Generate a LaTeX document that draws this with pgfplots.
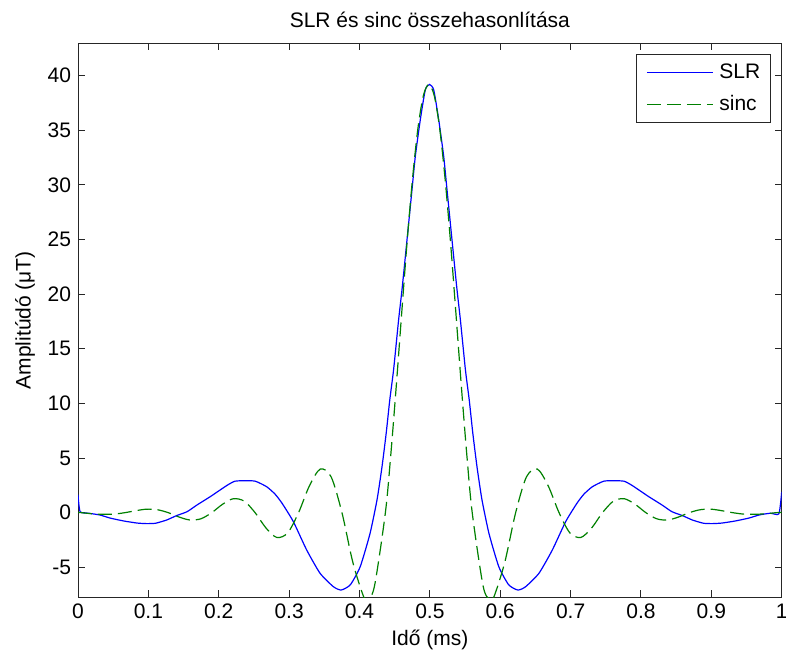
\documentclass[border=0pt]{standalone}
\usepackage{fontspec}
\setmainfont{Liberation Sans}
\usepackage{pgfplots}
\pgfplotsset{compat=1.18}
\definecolor{mgreen}{RGB}{0,128,0}
\definecolor{mblue}{RGB}{0,0,255}
\begin{document}
\begin{tikzpicture}[font=\fontsize{10.5}{12}\selectfont]
\useasboundingbox (0,0) rectangle (393pt,330.5pt);
\begin{axis}[
  at={(39pt,32pt)}, anchor=south west,
  scale only axis, width=351.85pt, height=276.75pt,
  xmin=0, xmax=1, ymin=-7.72, ymax=42.95,
  xtick={0,0.1,0.2,0.3,0.4,0.5,0.6,0.7,0.8,0.9,1},
  xticklabels={0,0.1,0.2,0.3,0.4,0.5,0.6,0.7,0.8,0.9,1},
  ytick={-5,0,5,10,15,20,25,30,35,40},
  yticklabels={-5,0,5,10,15,20,25,30,35,40},
  tick align=inside, xtick pos=both, ytick pos=both,
  major tick length=3.5pt,
  axis line style={line width=0.5pt, black!85},
  every tick/.style={line width=0.5pt, black!85},
  /pgf/number format/assume math mode=true,
  every axis title shift=0pt,
  title={SLR és sinc összehasonlítása},
  title style={at={(axis description cs:0.5,1.0425)}, anchor=center, inner sep=0pt},
  xlabel={Idő (ms)},
  xlabel style={at={(axis description cs:0.5,-0.0777)}, anchor=center, inner sep=0pt},
  ylabel={Amplitúdó (μT)},
  ylabel style={at={(axis description cs:-0.0753,0.5)}, anchor=center, inner sep=0pt},
  legend cell align=left,
  legend image code/.code={\draw[#1] (0pt,0pt) -- (33pt,0pt);},
  legend style={at={(axis description cs:0.9844,0.9805)}, anchor=north east,
    draw=black!85, line width=0.5pt, inner xsep=5pt, inner ysep=1pt,
    column sep=3pt,
    nodes={inner sep=0pt, minimum height=16pt, anchor=west}},
]
\addplot[mblue, line width=0.6pt, smooth, tension=0.35] coordinates {
(0,1.65) (0.003,0.1) (0.015,-0.05) (0.031,-0.21) (0.046,-0.5) (0.065,-0.76)
(0.084,-0.95) (0.097,-1.0) (0.11,-0.97) (0.126,-0.67) (0.140,-0.27) (0.155,0.09)
(0.169,0.7) (0.188,1.47) (0.202,2.08) (0.213,2.55) (0.223,2.88) (0.237,2.93)
(0.252,2.88) (0.268,2.38) (0.280,1.7) (0.290,0.86) (0.306,-0.82) (0.325,-3.42)
(0.344,-5.55) (0.363,-6.78) (0.374,-7.08) (0.387,-6.6) (0.401,-4.95) (0.415,-1.9)
(0.425,1.2) (0.432,4.2) (0.438,7.3) (0.443,10.3) (0.4485,13.1) (0.4556,17.65)
(0.4604,20.4) (0.4651,23.4) (0.4746,29.55) (0.4793,32.6) (0.4864,35.96) (0.4935,38.7)
(0.4995,39.2)
(0.5055,38.7) (0.5126,35.96) (0.5197,32.6) (0.5244,29.55) (0.5339,23.4) (0.5386,20.4)
(0.5434,17.65) (0.5505,13.1) (0.556,10.3) (0.561,7.3) (0.567,4.2) (0.574,1.2)
(0.584,-1.9) (0.598,-4.95) (0.612,-6.6) (0.625,-7.08) (0.636,-6.78) (0.655,-5.55)
(0.674,-3.42) (0.693,-0.82) (0.709,0.86) (0.719,1.7) (0.731,2.38) (0.747,2.88)
(0.762,2.93) (0.776,2.88) (0.786,2.55) (0.797,2.08) (0.811,1.47) (0.830,0.7)
(0.844,0.09) (0.859,-0.27) (0.873,-0.67) (0.889,-0.97) (0.902,-1.0) (0.915,-0.95)
(0.934,-0.76) (0.953,-0.5) (0.968,-0.21) (0.984,-0.05) (0.996,-0.1) (1.0,1.9)
};
\addlegendentry{SLR}
\addplot[mgreen, line width=0.6pt, smooth, dash pattern=on 7pt off 3pt] coordinates {
(0,0.03) (0.0049,0) (0.0203,-0.10) (0.0357,-0.15) (0.0512,-0.13) (0.0666,0)
(0.0820,0.18) (0.0974,0.32) (0.1129,0.27) (0.1283,0) (0.1437,-0.40) (0.1591,-0.67)
(0.1746,-0.56) (0.1900,0) (0.2054,0.77) (0.2208,1.28) (0.2363,1.05) (0.2517,0)
(0.2671,-1.40) (0.2825,-2.27) (0.2980,-1.85) (0.3134,0) (0.3288,2.45) (0.3442,3.99)
(0.3597,3.28) (0.3751,0) (0.3905,-4.53) (0.4059,-7.69) (0.4121,-7.92) (0.4214,-6.69)
(0.4368,0) (0.4445,5.31) (0.4522,11.54) (0.4599,18.20) (0.4676,24.74) (0.4754,30.59)
(0.4831,35.21) (0.4908,38.18) (0.4985,39.2) (0.5062,38.18) (0.5139,35.21) (0.5216,30.59)
(0.5294,24.74) (0.5371,18.20) (0.5448,11.54) (0.5525,5.31) (0.5602,0) (0.5756,-6.69)
(0.5849,-7.92) (0.5911,-7.69) (0.6065,-4.53) (0.6219,0) (0.6373,3.28) (0.6528,3.99)
(0.6682,2.45) (0.6836,0) (0.6990,-1.85) (0.7145,-2.27) (0.7299,-1.40) (0.7453,0)
(0.7607,1.05) (0.7762,1.28) (0.7916,0.77) (0.8070,0) (0.8224,-0.56) (0.8379,-0.67)
(0.8533,-0.40) (0.8687,0) (0.8841,0.27) (0.8996,0.32) (0.9150,0.18) (0.9304,0)
(0.9458,-0.13) (0.9613,-0.15) (0.9767,-0.10) (0.9921,0) (1.0,0.03)
};
\addlegendentry{sinc}
\end{axis}
\end{tikzpicture}
\end{document}
